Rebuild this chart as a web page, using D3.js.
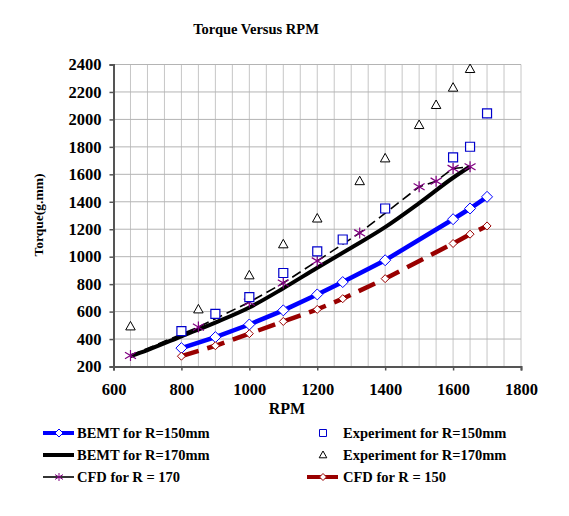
<!DOCTYPE html>
<html>
<head>
<meta charset="utf-8">
<script src="https://cdn.jsdelivr.net/npm/d3@7"></script>
<style>
  body { margin: 0; background: #fff; }
  svg text { font-family: "Liberation Serif", "Times New Roman", serif; font-weight: bold; fill: #000; }
</style>
</head>
<body>
<svg width="569" height="516"></svg>
<script>
// data
var bemt150Rpm = [800, 900, 1000, 1100, 1200, 1275, 1400, 1600, 1650, 1700];
var bemt150Tq  = [334, 414, 506, 609, 725, 815, 974, 1273, 1351, 1436];

var bemt170Rpm = [650, 700, 800, 900, 1000, 1100, 1200, 1300, 1400, 1500, 1600, 1650];
var bemt170Tq  = [275, 320, 420, 520, 630, 770, 920, 1065, 1215, 1390, 1575, 1657];

var cfd170Rpm = [650, 850, 1000, 1100, 1200, 1325, 1500, 1550, 1600, 1650];
var cfd170Tq  = [280, 487, 669, 808, 969, 1173, 1509, 1550, 1643, 1655];

var cfd150Rpm = [800, 900, 1000, 1100, 1200, 1275, 1400, 1600, 1650, 1700];
var cfd150Tq  = [275, 351, 439, 528, 616, 694, 840, 1096, 1164, 1224];

var exp150Rpm = [800, 900, 1000, 1100, 1200, 1275, 1400, 1600, 1650, 1700];
var exp150Tq  = [458, 584, 706, 881, 1039, 1125, 1351, 1723, 1801, 2044];

var exp170Rpm = [650, 850, 1000, 1100, 1200, 1325, 1400, 1500, 1550, 1600, 1650];
var exp170Tq  = [492, 616, 864, 1090, 1278, 1550, 1716, 1959, 2105, 2231, 2367];

var xTicks = [600, 800, 1000, 1200, 1400, 1600, 1800];
var yTicks = [200, 400, 600, 800, 1000, 1200, 1400, 1600, 1800, 2000, 2200, 2400];

var svg = d3.select("svg");

var x = d3.scaleLinear().domain([600, 1800]).range([113.5, 521]);
var y = d3.scaleLinear().domain([200, 2400]).range([366.5, 64.5]);

function zip(a, b) { return a.map(function(v, i) { return [v, b[i]]; }); }

// grid
var grid = svg.append("g");
grid.selectAll(".vg")
    .data(d3.range(650, 1801, 50))
    .enter().append("line")
      .attr("x1", function(d) { return x(d); })
      .attr("x2", function(d) { return x(d); })
      .attr("y1", y(200)).attr("y2", y(2400))
      .attr("stroke", "#c6c6c6").attr("stroke-width", 1);
grid.selectAll(".hg")
    .data(yTicks.slice(1))
    .enter().append("line")
      .attr("x1", x(600)).attr("x2", x(1800))
      .attr("y1", function(d) { return y(d); })
      .attr("y2", function(d) { return y(d); })
      .attr("stroke", "#b4b4b4").attr("stroke-width", 1);

// axes
var yAxis = svg.append("g")
    .attr("transform", "translate(" + x(600) + ",0)")
    .call(d3.axisLeft(y).tickValues(yTicks).tickSize(4).tickPadding(8).tickFormat(d3.format("d")));
var xAxis = svg.append("g")
    .attr("transform", "translate(0," + y(200) + ")")
    .call(d3.axisBottom(x).tickValues(xTicks).tickSize(4).tickPadding(13).tickFormat(d3.format("d")));
[yAxis, xAxis].forEach(function(a) {
    a.select(".domain").attr("stroke", "#555").attr("stroke-width", 2);
    a.selectAll(".tick line").attr("stroke", "#555").attr("stroke-width", 1.5);
    a.selectAll("text").attr("font-family", "Liberation Serif").attr("font-size", 16.5).attr("font-weight", "bold");
});

// series paths
var line = d3.line().x(function(d) { return x(d[0]); }).y(function(d) { return y(d[1]); });

svg.append("path").datum(zip(bemt170Rpm, bemt170Tq))
    .attr("d", line.curve(d3.curveMonotoneX))
    .attr("fill", "none").attr("stroke", "#000").attr("stroke-width", 4);
line.curve(d3.curveLinear);

svg.append("path").datum(zip(cfd170Rpm, cfd170Tq))
    .attr("d", line)
    .attr("fill", "none").attr("stroke", "#000").attr("stroke-width", 1.6)
    .attr("stroke-dasharray", "10,5");

svg.append("path").datum(zip(bemt150Rpm, bemt150Tq))
    .attr("d", line)
    .attr("fill", "none").attr("stroke", "#0000ff").attr("stroke-width", 4.5);

svg.append("path").datum(zip(cfd150Rpm, cfd150Tq))
    .attr("d", line)
    .attr("fill", "none").attr("stroke", "#990000").attr("stroke-width", 4.5)
    .attr("stroke-dasharray", "18,9");

// marker shapes
function diamond(s) { return "M0," + (-s) + "L" + s + ",0L0," + s + "L" + (-s) + ",0Z"; }
function square(s) { return "M" + (-s) + "," + (-s) + "H" + s + "V" + s + "H" + (-s) + "Z"; }
function triangle(s) { return "M0," + (-s) + "L" + (s * 0.95) + "," + (s * 0.7) + "L" + (-s * 0.95) + "," + (s * 0.7) + "Z"; }
function star(s) { return "M" + (-s) + "," + (-s * 0.6) + "L" + s + "," + (s * 0.6) + "M" + (-s) + "," + (s * 0.6) + "L" + s + "," + (-s * 0.6) + "M0," + (-s) + "V" + s; }

function markers(rpm, tq, shape, size, stroke, fill, sw) {
    svg.append("g").selectAll("path")
        .data(zip(rpm, tq))
        .enter().append("path")
          .attr("transform", function(d) { return "translate(" + x(d[0]) + "," + y(d[1]) + ")"; })
          .attr("d", shape(size))
          .attr("fill", fill).attr("stroke", stroke).attr("stroke-width", sw);
}

markers(bemt150Rpm, bemt150Tq, diamond, 5.5, "#0000ff", "#fff", 1);
markers(cfd150Rpm, cfd150Tq, diamond, 4, "#990000", "#fff", 1);
markers(cfd170Rpm, cfd170Tq, star, 5.5, "#800080", "none", 1.2);
markers(exp150Rpm, exp150Tq, square, 4.5, "#0000cc", "#fff", 1.2);
markers(exp170Rpm, exp170Tq, triangle, 5, "#000", "#fff", 1);

// titles
svg.append("text").attr("x", 256).attr("y", 34).attr("text-anchor", "middle")
    .attr("font-size", 14.5).text("Torque Versus RPM");
svg.append("text").attr("x", 287).attr("y", 414).attr("text-anchor", "middle")
    .attr("font-size", 16).text("RPM");
svg.append("text").attr("transform", "translate(43,215) rotate(-90)").attr("text-anchor", "middle")
    .attr("font-size", 13.5).text("Torque(g.mm)");

// legend
var legendItems = [
    {label: "BEMT for R=150mm", lx: 43, tx: 77, ty: 438, stroke: "#0000ff", sw: 4, mk: diamond, ms: 4, mstroke: "#0000ff", mfill: "#fff"},
    {label: "BEMT for R=170mm", lx: 43, tx: 77, ty: 460, stroke: "#000", sw: 4, mk: null},
    {label: "CFD for R = 170", lx: 43, tx: 77, ty: 482, stroke: "#000", sw: 1.6, mk: star, ms: 4, mstroke: "#800080", mfill: "none"},
    {label: "Experiment for R=150mm", lx: 307, tx: 343, ty: 438, stroke: null, mk: square, ms: 3.5, mstroke: "#0000cc", mfill: "#fff"},
    {label: "Experiment for R=170mm", lx: 307, tx: 343, ty: 460, stroke: null, mk: triangle, ms: 4, mstroke: "#000", mfill: "#fff"},
    {label: "CFD for R = 150", lx: 307, tx: 343, ty: 482, stroke: "#990000", sw: 4, mk: diamond, ms: 3.5, mstroke: "#990000", mfill: "#fff"}
];

var lg = svg.append("g").selectAll("g").data(legendItems).enter().append("g");
lg.filter(function(d) { return d.stroke; }).append("line")
    .attr("x1", function(d) { return d.lx; })
    .attr("x2", function(d) { return d.lx + 31; })
    .attr("y1", function(d) { return d.ty - 5; })
    .attr("y2", function(d) { return d.ty - 5; })
    .attr("stroke", function(d) { return d.stroke; })
    .attr("stroke-width", function(d) { return d.sw; });
lg.filter(function(d) { return d.mk; }).append("path")
    .attr("transform", function(d) { return "translate(" + (d.stroke ? d.lx + 16 : 323) + "," + (d.ty - 5) + ")"; })
    .attr("d", function(d) { return d.mk(d.ms); })
    .attr("fill", function(d) { return d.mfill; })
    .attr("stroke", function(d) { return d.mstroke; })
    .attr("stroke-width", 1);
lg.append("text")
    .attr("x", function(d) { return d.tx; })
    .attr("y", function(d) { return d.ty; })
    .attr("font-size", 14.5)
    .text(function(d) { return d.label; });
</script>
</body>
</html>
